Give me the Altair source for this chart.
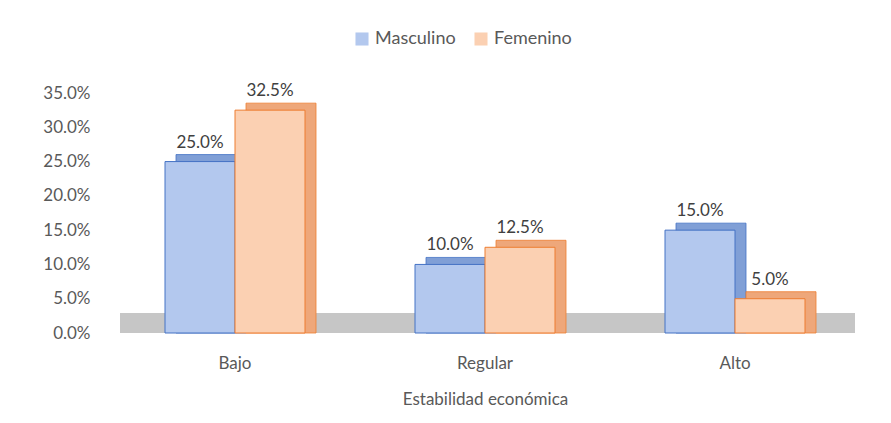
import altair as alt
import pandas as pd

categories = ["Bajo", "Regular", "Alto"]
series = ["Masculino", "Femenino"]
masculino = [0.25, 0.10, 0.15]
femenino = [0.325, 0.125, 0.05]

rows = []
for i, c in enumerate(categories):
    rows.append({"cat": c, "serie": "Masculino", "val": masculino[i], "idx": i, "k": 0})
    rows.append({"cat": c, "serie": "Femenino", "val": femenino[i], "idx": i, "k": 1})
df = pd.DataFrame(rows)
# band edges in category units (group width 0.56 of each category step)
df["left"] = df["idx"] + 0.22 + 0.28 * df["k"]
df["right"] = df["left"] + 0.28

FONT = "Lato"
FS = 17
y_scale = alt.Scale(domain=[0, 0.35])
y_axis = alt.Axis(title=None, format=".1%", values=[0, .05, .1, .15, .2, .25, .3, .35],
                  labelOverlap=False, domain=False, ticks=False, grid=False,
                  labelPadding=20, labelFontSize=FS, labelColor="#595959", labelFont=FONT)
fill_scale = alt.Scale(domain=series, range=["#b3c8ee", "#fbd0b2"])
stroke_scale = alt.Scale(domain=series, range=["#4472c4", "#ed7d31"])
depth_scale = alt.Scale(domain=series, range=["#809fd6", "#eea77a"])

floor = alt.Chart(pd.DataFrame({"a": [0]})).mark_rect(color="#c6c6c6").encode(
    x=alt.value(10), x2=alt.value(745),
    y=alt.datum(0, scale=y_scale, axis=y_axis), y2=alt.datum(0.029)
)

depth = alt.Chart(df).mark_rect(xOffset=11, x2Offset=11, yOffset=-7, strokeWidth=0.8).encode(
    x=alt.X("left:Q", scale=alt.Scale(domain=[0, 3], nice=False, zero=False), axis=None),
    x2="right:Q",
    y=alt.Y("val:Q", scale=y_scale, axis=y_axis),
    y2=alt.datum(0),
    fill=alt.Fill("serie:N", sort=series, scale=depth_scale, legend=None),
    stroke=alt.Stroke("serie:N", sort=series, scale=stroke_scale, legend=None),
)

x_enc = alt.X("cat:N", sort=categories,
              scale=alt.Scale(paddingInner=0.44, paddingOuter=0.22),
              axis=alt.Axis(title="Estabilidad económica", labelAngle=0, domain=False, ticks=False,
                            labelPadding=22, titlePadding=20, labelFontSize=FS, titleFontSize=FS,
                            labelColor="#595959", titleColor="#595959", labelFont=FONT,
                            titleFont=FONT, titleFontWeight="normal"))

bars = alt.Chart(df).mark_bar(strokeWidth=1).encode(
    x=x_enc,
    xOffset=alt.XOffset("serie:N", sort=series),
    y=alt.Y("val:Q", scale=y_scale, axis=y_axis),
    fill=alt.Fill("serie:N", sort=series, scale=fill_scale,
                  legend=alt.Legend(title=None, orient="none", direction="horizontal",
                                    legendX=243, legendY=-63, symbolType="square",
                                    symbolSize=170, symbolStrokeWidth=1.5,
                                    labelFontSize=18, labelColor="#595959", labelFont=FONT,
                                    columnPadding=16)),
    stroke=alt.Stroke("serie:N", sort=series, scale=stroke_scale, legend=None),
)

labels = alt.Chart(df).mark_text(dy=-19, fontSize=FS, color="#404040", font=FONT).encode(
    x=alt.X("cat:N", sort=categories),
    xOffset=alt.XOffset("serie:N", sort=series),
    y=alt.Y("val:Q", scale=y_scale, axis=y_axis),
    text=alt.Text("val:Q", format=".1%"),
)

main = alt.layer(bars, labels)
chart = alt.layer(floor, depth, main).resolve_scale(
    fill="independent", x="independent"
).properties(
    width=750, height=240,
    autosize=alt.AutoSizeParams(type="none"),
    padding={"left": 102, "top": 85, "right": 20, "bottom": 80},
).configure_view(stroke=None)

chart.save("out.html", embed_options={"renderer": "svg", "actions": False})
